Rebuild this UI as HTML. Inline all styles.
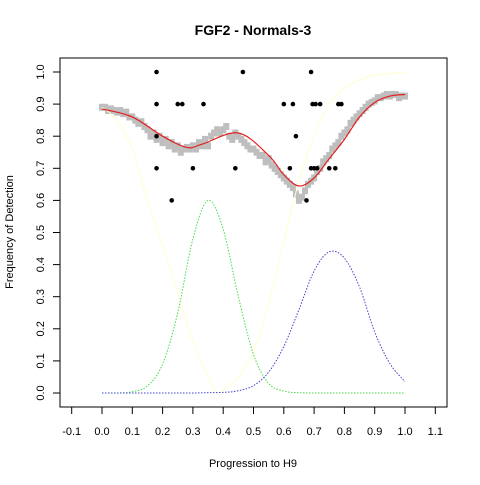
<!DOCTYPE html>
<html><head><meta charset="utf-8"><style>
body{margin:0;background:#fff}
text{font-family:"Liberation Sans",sans-serif;font-size:11px;fill:#000}
</style></head><body>
<svg id="chart" width="480" height="480" viewBox="0 0 480 480">
<rect width="480" height="480" fill="#fff"/>
<text x="253" y="35" text-anchor="middle" style="font-size:14px;font-weight:bold">FGF2 - Normals-3</text>
<text x="253" y="467" text-anchor="middle">Progression to H9</text>
<text transform="translate(13,232) rotate(-90)" text-anchor="middle">Frequency of Detection</text>
<rect x="60" y="58" width="387" height="349" fill="none" stroke="#000"/>
<g id="axes"></g>
<g id="marks"></g>
</svg>
<script>
const xTicks=[-0.1,0,0.1,0.2,0.3,0.4,0.5,0.6,0.7,0.8,0.9,1.0,1.1];
const xTickLabels=["-0.1","0.0","0.1","0.2","0.3","0.4","0.5","0.6","0.7","0.8","0.9","1.0","1.1"];
const yTicks=[0,0.1,0.2,0.3,0.4,0.5,0.6,0.7,0.8,0.9,1.0];
const yTickLabels=["0.0","0.1","0.2","0.3","0.4","0.5","0.6","0.7","0.8","0.9","1.0"];
const grayX=[];for(let i=0;i<=100;i++)grayX.push(i/100);
const grayY=[0.89,0.89,0.88,0.885,0.88,0.875,0.88,0.87,0.875,0.86,
0.86,0.85,0.84,0.845,0.83,0.82,0.80,0.81,0.79,0.80,
0.78,0.79,0.77,0.78,0.76,0.77,0.75,0.76,0.765,0.76,
0.77,0.76,0.78,0.77,0.79,0.77,0.80,0.81,0.82,0.81,
0.82,0.83,0.80,0.79,0.81,0.80,0.79,0.78,0.77,0.76,
0.76,0.75,0.74,0.74,0.72,0.73,0.71,0.70,0.69,0.68,
0.67,0.66,0.65,0.64,0.62,0.60,0.61,0.63,0.65,0.66,
0.67,0.69,0.70,0.72,0.73,0.74,0.76,0.77,0.78,0.80,
0.81,0.82,0.84,0.85,0.86,0.87,0.88,0.89,0.90,0.905,
0.91,0.92,0.92,0.925,0.93,0.925,0.93,0.93,0.92,0.925,0.925];
const blackX=[0.18,0.465,0.69, 0.18,0.25,0.265,0.335,0.60,0.63,0.695,0.705,0.72,0.78,0.79, 0.18,0.64, 0.18,0.30,0.44,0.62,0.69,0.70,0.71,0.75,0.77, 0.23,0.675];
const blackY=[1,1,1, 0.9,0.9,0.9,0.9,0.9,0.9,0.9,0.9,0.9,0.9,0.9, 0.8,0.8, 0.7,0.7,0.7,0.7,0.7,0.7,0.7,0.7,0.7, 0.6,0.6];
const redX=[0,0.1,0.2,0.28,0.33,0.45,0.55,0.6,0.65,0.7,0.75,0.8,0.85,0.9,0.95,1.0];
const redY=[0.885,0.86,0.80,0.765,0.775,0.81,0.74,0.68,0.645,0.67,0.73,0.79,0.86,0.905,0.925,0.93];
const yellowX=[0,0.05,0.1,0.15,0.2,0.25,0.3,0.35,0.38,0.4,0.45,0.5,0.55,0.6,0.65,0.7,0.75,0.8,0.85,0.9,0.95,1.0];
const yellowY=[0.89,0.85,0.76,0.6,0.46,0.31,0.16,0.05,0.0,0.01,0.05,0.13,0.28,0.47,0.66,0.8,0.9,0.95,0.975,0.99,0.995,1.0];
const curveX=[0,0.05,0.1,0.15,0.2,0.25,0.3,0.35,0.4,0.45,0.5,0.55,0.6,0.65,0.7,0.75,0.8,0.85,0.9,0.95,1.0];
const greenY=[0,0,0.004,0.022,0.09,0.25,0.48,0.6,0.51,0.30,0.12,0.03,0.006,0.001,0,0,0,0,0,0,0];
const blueY=[0,0,0,0,0,0,0,0.001,0.002,0.007,0.023,0.065,0.145,0.26,0.38,0.44,0.42,0.33,0.19,0.092,0.035];

const X=v=>102+v*303, Y=v=>393-v*321;
const NS='http://www.w3.org/2000/svg';
const axes=document.getElementById('axes'), marks=document.getElementById('marks');
function mk(tag,attrs,parent){const e=document.createElementNS(NS,tag);for(const k in attrs)e.setAttribute(k,attrs[k]);parent.appendChild(e);return e;}
xTicks.forEach((t,i)=>{
  const l=mk('line',{x1:X(t),x2:X(t),y1:407,y2:414,stroke:'#000'},axes);
  
  
  const tx=mk('text',{x:X(t),y:435,'text-anchor':'middle'},axes);tx.textContent=xTickLabels[i];
  
  
});
yTicks.forEach((t,i)=>{
  const l=mk('line',{x1:53,x2:60,y1:Y(t),y2:Y(t),stroke:'#000'},axes);
  
  
  const tx=mk('text',{transform:`translate(44,${Y(t)}) rotate(-90)`,'text-anchor':'middle'},axes);tx.textContent=yTickLabels[i];
  
  
});
function smooth(xs,ys){
  const p=xs.map((x,i)=>[X(x),Y(ys[i])]);let d=`M${p[0][0]},${p[0][1]}`;
  for(let i=0;i<p.length-1;i++){const p0=p[i-1]||p[i],p1=p[i],p2=p[i+1],p3=p[i+2]||p2;
    d+=` C${p1[0]+(p2[0]-p0[0])/6},${p1[1]+(p2[1]-p0[1])/6} ${p2[0]-(p3[0]-p1[0])/6},${p2[1]-(p3[1]-p1[1])/6} ${p2[0]},${p2[1]}`;}
  return d;}
grayX.forEach((x,i)=>{
  const r=mk('rect',{x:X(x)-3,y:Y(grayY[i])-3.5,width:6,height:7,fill:'#bebebe'},marks);
  
  
});
const yl=mk('path',{d:smooth(yellowX,yellowY),fill:'none',stroke:'#ffffcc','stroke-width':1},marks);


const gl=mk('path',{d:smooth(curveX,greenY),fill:'none',stroke:'#44dd44','stroke-width':1,'stroke-dasharray':'1.5,1.5'},marks);


const bl=mk('path',{d:smooth(curveX,blueY),fill:'none',stroke:'#4444cc','stroke-width':1,'stroke-dasharray':'1.5,1.5'},marks);


const rl=mk('path',{d:smooth(redX,redY),fill:'none',stroke:'#e02020','stroke-width':1.2},marks);


blackX.forEach((x,i)=>{
  const c=mk('circle',{cx:X(x),cy:Y(blackY[i]),r:2.3,fill:'#000'},marks);
  
  
});
</script>
</body></html>
